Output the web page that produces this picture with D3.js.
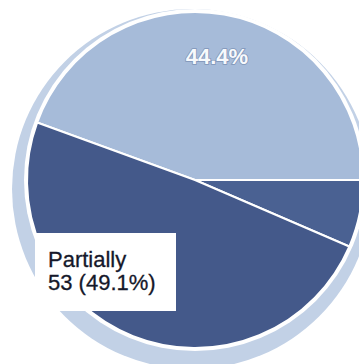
<!DOCTYPE html>
<html>
<head>
<meta charset="utf-8">
<script src="https://cdn.jsdelivr.net/npm/d3@7"></script>
<style>
    body { margin: 0; background: #ffffff; }
    svg { display: block; }
    .pieLabel { font-family: "Liberation Sans", Arial, sans-serif; }
</style>
</head>
<body>
<script>
//wrap everything in a self-executing anonymous function to move to local scope
(function(){

    //chart data
    var categories = ["Yes", "No", "Partially"]; //slice order, clockwise from upper left
    var counts = [48, 7, 53]; //responses per category
    var percentLabels = ["44.4%", "6.5%", "49.1%"]; //percent labels as printed

    //slice colours
    var colors = ["#a6bbd9", "#4a6192", "#44598a"];

window.onload = setChart();

//draws the pie chart
function setChart(){

    //svg dimensions
    var width = 359,
        height = 364;

    var cx = 195,
        cy = 180,
        radius = 168;

    var svg = d3.select("body")
        .append("svg")
        .attr("width", width)
        .attr("height", height);

    var data = categories.map(function(c, i){
        return { name: c, value: counts[i], pct: percentLabels[i] };
    });

    //pie layout, starting at upper left so the light slice sits on top
    var pie = d3.pie()
        .sort(null)
        .value(function(d){ return d.value; })
        .startAngle(-70 * Math.PI / 180)
        .endAngle(290 * Math.PI / 180);

    var arcs = pie(data);

    var arc = d3.arc()
        .innerRadius(0)
        .outerRadius(radius);

    var labelArc = d3.arc()
        .innerRadius(radius * 0.75)
        .outerRadius(radius * 0.75);

    var g = svg.append("g")
        .attr("transform", "translate(" + cx + "," + cy + ")");

    //faded rim seen around the lower part of the pie
    g.append("circle")
        .attr("cx", -3)
        .attr("cy", 9)
        .attr("r", radius + 12)
        .attr("fill", "#c2d1e6");

    g.append("circle")
        .attr("r", radius + 3)
        .attr("fill", "#ffffff");

    //slices
    g.selectAll(".slice")
        .data(arcs)
        .enter()
        .append("path")
        .attr("class", "slice")
        .attr("d", arc)
        .attr("fill", function(d, i){ return colors[i]; })
        .attr("stroke", "#ffffff")
        .attr("stroke-width", 2)
        .attr("stroke-linejoin", "round");

    //percent label on the top slice
    g.append("text")
        .attr("class", "pieLabel")
        .attr("transform", "translate(" + labelArc.centroid(arcs[0]) + ")")
        .attr("text-anchor", "middle")
        .attr("dy", "0.35em")
        .style("font-size", "22px")
        .style("font-weight", "700")
        .style("paint-order", "stroke")
        .attr("fill", "#f7f9fc")
        .attr("stroke", "#7f95b8")
        .attr("stroke-width", 1.6)
        .text(percentLabels[0]);

    //callout box for the Partially slice
    var box = g.append("g")
        .attr("transform", "translate(" + (-160) + "," + 53 + ")");

    box.append("rect")
        .attr("width", 141)
        .attr("height", 78)
        .attr("fill", "#ffffff");

    box.append("text")
        .attr("class", "pieLabel")
        .attr("x", 13)
        .attr("y", 34)
        .style("font-size", "22px")
        .attr("fill", "#15182a")
        .attr("stroke", "#15182a")
        .attr("stroke-width", 0.3)
        .text(categories[2]);

    box.append("text")
        .attr("class", "pieLabel")
        .attr("x", 13)
        .attr("y", 57)
        .style("font-size", "22px")
        .attr("fill", "#15182a")
        .attr("stroke", "#15182a")
        .attr("stroke-width", 0.3)
        .text(counts[2] + " (" + percentLabels[2] + ")");
}

})();
</script>
</body>
</html>
